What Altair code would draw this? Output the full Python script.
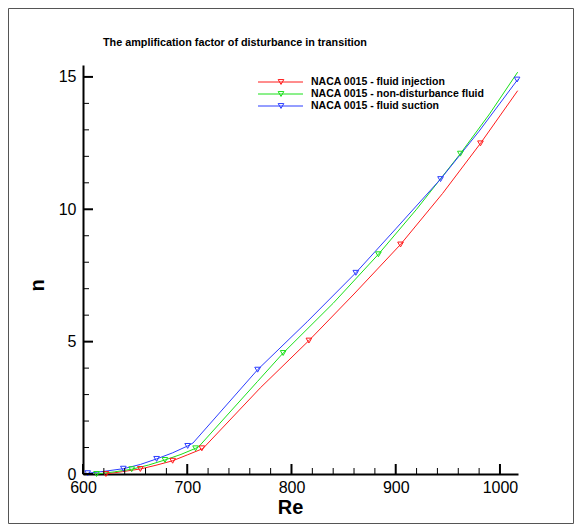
import altair as alt
import pandas as pd

# ---- data ----
series_names = [
    "NACA 0015 - fluid injection",
    "NACA 0015 - non-disturbance fluid",
    "NACA 0015 - fluid suction",
]
series_colors = ["#ff1a1a", "#19e019", "#2b3dff"]

# line vertices
inj_re = [622, 638, 655, 670, 686, 700, 715, 770, 816.7, 860, 904.6, 945, 981.3, 1017]
inj_n = [0.0, 0.09, 0.19, 0.33, 0.50, 0.72, 0.96, 3.25, 5.04, 6.8, 8.67, 10.6, 12.49, 14.48]

non_re = [613, 630, 646.7, 663, 678.6, 694, 708, 711, 767.5, 792, 840, 883.4, 920, 962, 990, 1017]
non_n = [0.0, 0.08, 0.18, 0.34, 0.53, 0.74, 0.97, 1.03, 3.5, 4.57, 6.45, 8.3, 10.0, 12.1, 13.6, 15.18]

suc_re = [604.5, 620, 638.7, 655, 670.6, 686, 700.4, 705.5, 767.5, 815, 861.7, 900, 943, 980, 1017]
suc_n = [0.03, 0.10, 0.20, 0.36, 0.57, 0.80, 1.06, 1.17, 3.94, 5.75, 7.6, 9.26, 11.14, 12.95, 14.9]

# marker positions
inj_mk_re = [622, 655, 686, 714, 816.7, 904.6, 981.3]
inj_mk_n = [0.0, 0.19, 0.50, 0.97, 5.04, 8.67, 12.49]
non_mk_re = [613, 646.7, 678.6, 708, 792, 883.4, 962]
non_mk_n = [0.0, 0.18, 0.53, 0.97, 4.57, 8.3, 12.1]
suc_mk_re = [604.5, 638.7, 670.6, 700.4, 767.5, 861.7, 943, 1016.4]
suc_mk_n = [0.03, 0.20, 0.57, 1.06, 3.94, 7.6, 11.14, 14.9]

x_major = [600, 700, 800, 900, 1000]
x_minor = [620, 640, 660, 680, 720, 740, 760, 780, 820, 840, 860, 880, 920, 940, 960, 980]
y_major = [0, 5, 10, 15]
y_minor = [1, 2, 3, 4, 6, 7, 8, 9, 11, 12, 13, 14]

title_text = "The amplification factor of disturbance in transition"

W, H = 435, 409
FONT = "Liberation Sans"
X0, X1 = 600, 1017.3
Y0, Y1 = 0, 15.45

TRI = "triangle-down"
UP = "M0,0L0,-1"      # vertical tick pointing up (into the plot)
RIGHT = "M0,0L1,0"    # horizontal tick pointing right (into the plot)

# ---- tables ----
def frame(name, xs, ys):
    return pd.DataFrame({"Re": xs, "n": ys, "series": name})

lines_df = pd.concat([
    frame(series_names[0], inj_re, inj_n),
    frame(series_names[1], non_re, non_n),
    frame(series_names[2], suc_re, suc_n),
], ignore_index=True)

def markers(name, xs, ys):
    df = frame(name, xs, ys)
    df["shp"] = TRI
    df["sz"] = 32
    df["sw"] = 1
    return df

def tick_rows(xs, ys, shape, length, width):
    df = pd.DataFrame({"Re": xs, "n": ys, "series": "tick"})
    df["shp"] = shape
    df["sz"] = (2 * length) ** 2
    df["sw"] = width
    return df

points_df = pd.concat([
    markers(series_names[0], inj_mk_re, inj_mk_n),
    markers(series_names[1], non_mk_re, non_mk_n),
    markers(series_names[2], suc_mk_re, suc_mk_n),
    tick_rows(x_major, [Y0] * len(x_major), UP, 10, 2),
    tick_rows(x_minor, [Y0] * len(x_minor), UP, 6, 1),
    tick_rows([X0] * len(y_major), y_major, RIGHT, 10, 2),
    tick_rows([X0] * len(y_minor), y_minor, RIGHT, 6, 1),
], ignore_index=True)

xscale = alt.Scale(domain=[X0, X1], nice=False, zero=False)
yscale = alt.Scale(domain=[Y0, Y1], nice=False, zero=False)
cscale = alt.Scale(domain=series_names + ["tick"], range=series_colors + ["black"])

xaxis = alt.Axis(
    orient="bottom",
    values=x_major, format="d", grid=False, ticks=False, labelFlush=False,
    domainColor="black", domainWidth=2,
    labelFont=FONT, labelFontSize=16, labelColor="black", labelPadding=5,
    title="Re", titleFont=FONT, titleFontSize=20, titleFontWeight="bold",
    titleColor="black", titleBaseline="alphabetic", titleY=39, titleX=207,
)
yaxis = alt.Axis(
    orient="left",
    values=y_major, format="d", grid=False, ticks=False, labelFlush=False,
    domainColor="black", domainWidth=2,
    labelFont=FONT, labelFontSize=16, labelColor="black", labelPadding=7,
    title="n", titleFont=FONT, titleFontSize=20, titleFontWeight="bold",
    titleColor="black", titleBaseline="alphabetic", titleAlign="center",
    titleAngle=-90, titleX=-40, titleY=220,
)

lines = alt.Chart(lines_df).mark_line(strokeWidth=1).encode(
    x=alt.X("Re:Q", scale=xscale, axis=xaxis),
    y=alt.Y("n:Q", scale=yscale, axis=yaxis),
    color=alt.Color("series:N", scale=cscale, legend=None),
    detail="series:N",
)

points = alt.Chart(points_df).mark_point(filled=False, opacity=1).encode(
    x=alt.X("Re:Q", scale=xscale, axis=None),
    y=alt.Y("n:Q", scale=yscale, axis=None),
    color=alt.Color("series:N", scale=cscale, legend=None),
    shape=alt.Shape("shp:N", scale=None, legend=None),
    size=alt.Size("sz:Q", scale=None, legend=None),
    strokeWidth=alt.StrokeWidth("sw:Q", scale=None, legend=None),
)

one = pd.DataFrame({"k": [0]})
border = alt.Chart(one).mark_rect(
    fillOpacity=0, stroke="#555555", strokeWidth=1
).encode(
    x=alt.value(-74.5), x2=alt.value(W + 55.5),
    y=alt.value(-56.5), y2=alt.value(H + 49.5),
)

legend_layers = []
legend_y = [17, 29, 41]
for name, col, ly in zip(series_names, series_colors, legend_y):
    legend_layers.append(alt.Chart(one).mark_rule(color=col, strokeWidth=1).encode(
        x=alt.value(175), x2=alt.value(220), y=alt.value(ly)))
    legend_layers.append(alt.Chart(one).mark_point(
        shape="triangle-down", filled=False, size=32, strokeWidth=1, color=col, opacity=1
    ).encode(x=alt.value(198), y=alt.value(ly)))
    legend_layers.append(alt.Chart(pd.DataFrame({"label": [name]})).mark_text(
        align="left", baseline="middle", font=FONT, fontSize=10.5,
        fontWeight="bold", color="black"
    ).encode(x=alt.value(228), y=alt.value(ly), text="label:N"))

title_layer = alt.Chart(pd.DataFrame({"t": [title_text]})).mark_text(
    align="left", baseline="alphabetic", font=FONT, fontSize=10.8,
    fontWeight="bold", color="black"
).encode(x=alt.value(20), y=alt.value(-19), text="t:N")

chart = alt.layer(
    lines, points, border, title_layer, *legend_layers,
).resolve_axis(x="independent", y="independent").properties(
    width=W, height=H,
    autosize=alt.AutoSizeParams(type="none"),
    padding={"left": 75, "top": 57, "right": 56, "bottom": 50},
).configure_view(stroke=None)

chart.save("out.html", embed_options={"renderer": "svg", "actions": False})
